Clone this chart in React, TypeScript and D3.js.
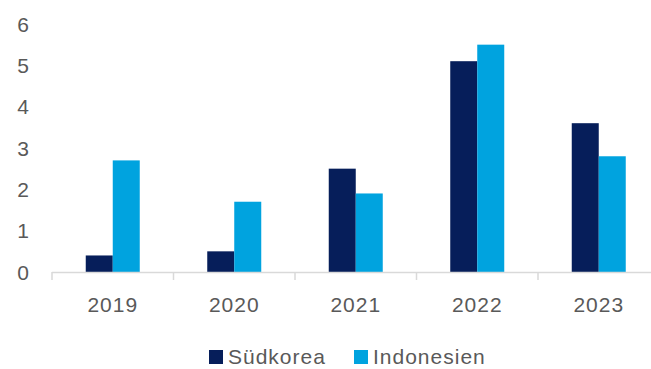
import React from "react";
import * as d3 from "d3";

const categories = ["2019", "2020", "2021", "2022", "2023"];
const suedkorea = [0.4, 0.5, 2.5, 5.1, 3.6];
const indonesien = [2.7, 1.7, 1.9, 5.5, 2.8];
const seriesNames = ["Südkorea", "Indonesien"];
const seriesColors = ["#061E5A", "#00A3DF"];
const yTicks = [0, 1, 2, 3, 4, 5, 6];

export default function App() {
  const W = 651, H = 369;
  const x0 = 52, x1 = 659.5;
  const y = d3.scaleLinear().domain([0, 6]).range([272, 24]);
  const x = d3.scaleBand().domain(categories).range([x0, x1]).paddingInner(0).paddingOuter(0);
  const groupW = 54;
  const bw = x.bandwidth();
  const inner = d3.scaleBand().domain(seriesNames).range([(bw - groupW) / 2, (bw + groupW) / 2]).padding(0);
  const series = [suedkorea, indonesien];
  const font = "'Liberation Sans', Arial, sans-serif";
  const textColor = "#595959";
  const axisColor = "#D9D9D9";
  const legendItems = [
    { name: seriesNames[0], sx: 209, tx: 228 },
    { name: seriesNames[1], sx: 354, tx: 373 },
  ];
  const ly = 364;
  return (
    <svg width={W} height={H} style={{ position: "absolute", left: 0, top: 0 }}>
      {yTicks.map((t) => (
        <text key={t} x={29} y={y(t) + 7.5} textAnchor="end" fontFamily={font} fontSize={21} fill={textColor}>
          {t}
        </text>
      ))}
      {series.map((vals, si) =>
        vals.map((v, i) => {
          const bx = (x(categories[i]) as number) + (inner(seriesNames[si]) as number);
          return (
            <rect
              key={`${si}-${i}`}
              x={bx}
              y={y(v)}
              width={inner.bandwidth()}
              height={y(0) - y(v)}
              fill={seriesColors[si]}
            />
          );
        })
      )}
      <line x1={x0} x2={W} y1={272.5} y2={272.5} stroke={axisColor} strokeWidth={1.5} />
      {categories.map((c) => (
        <line key={c} x1={(x(c) as number)} x2={(x(c) as number)} y1={272} y2={280} stroke={axisColor} strokeWidth={1.5} />
      ))}
      {categories.map((c) => (
        <text key={c} x={(x(c) as number) + bw / 2} y={312} textAnchor="middle" fontFamily={font} fontSize={21} fill={textColor} letterSpacing={1}>
          {c}
        </text>
      ))}
      {legendItems.map((l, i) => (
        <g key={l.name}>
          <rect x={l.sx} y={ly - 14} width={14} height={14} fill={seriesColors[i]} />
          <text x={l.tx} y={ly} fontFamily={font} fontSize={21} fill={textColor} letterSpacing={1}>
            {l.name}
          </text>
        </g>
      ))}
    </svg>
  );
}
